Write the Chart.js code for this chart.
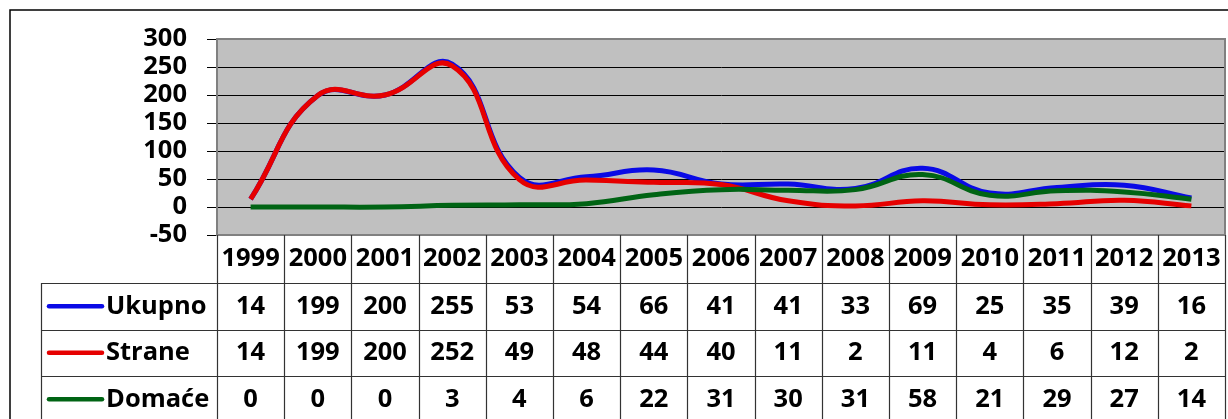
<!DOCTYPE html>
<html lang="sr">
<head>
  <meta charset="UTF-8" />
  <title>Ukupno / Strane / Domaće</title>
  <script src="https://cdn.jsdelivr.net/npm/chart.js"></script>
  <style>
    body { margin: 0; background: #fff; }
    canvas { display: block; }
  </style>
</head>
<body>
  <canvas id="chart" width="1228" height="419"></canvas>
  <script>
    const years = ["1999", "2000", "2001", "2002", "2003", "2004", "2005", "2006",
                   "2007", "2008", "2009", "2010", "2011", "2012", "2013"];
    const ukupno = [14, 199, 200, 255, 53, 54, 66, 41, 41, 33, 69, 25, 35, 39, 16];
    const strane = [14, 199, 200, 252, 49, 48, 44, 40, 11, 2, 11, 4, 6, 12, 2];
    const domace = [0, 0, 0, 3, 4, 6, 22, 31, 30, 31, 58, 21, 29, 27, 14];
    const seriesNames = ["Ukupno", "Strane", "Domaće"];
    const seriesColors = ["#0a0ae6", "#e60000", "#006414"];

    const FONT = "bold 25.5px 'Open Sans'";

    // plot background, outer frame, and the data table under the plot
    const tablePlugin = {
      id: "tablePlugin",
      beforeDraw(chart) {
        const { ctx, chartArea: a } = chart;
        ctx.save();
        ctx.fillStyle = "#fff";
        ctx.fillRect(0, 0, chart.width, chart.height);
        ctx.strokeStyle = "#000";
        ctx.lineWidth = 1.5;
        ctx.beginPath();
        ctx.moveTo(10, chart.height);
        ctx.lineTo(10, 10);
        ctx.lineTo(chart.width, 10);
        ctx.stroke();
        ctx.fillStyle = "#c0c0c0";
        ctx.fillRect(a.left, a.top, a.right - a.left, a.bottom - a.top);
        ctx.restore();
      },
      afterDatasetsDraw(chart) {
        const { ctx, chartArea: a, scales } = chart;
        const x = scales.x;
        const half = (a.right - a.left) / years.length / 2;
        const headH = 48, rowH = 46.5;
        const legendLeft = 41;
        const rowsTop = a.bottom + headH;
        const bottom = chart.height + 5;
        const allData = [ukupno, strane, domace];

        ctx.save();
        // plot border
        ctx.strokeStyle = "#808080";
        ctx.lineWidth = 2;
        ctx.strokeRect(a.left, a.top, a.right - a.left, a.bottom - a.top);

        // table grid
        ctx.strokeStyle = "#333";
        ctx.lineWidth = 1.2;
        ctx.beginPath();
        for (let i = 0; i <= years.length; i++) {
          const px = Math.round(x.getPixelForValue(Math.min(i, years.length - 1)) + (i === years.length ? half : -half)) + 0.5;
          ctx.moveTo(px, a.bottom);
          ctx.lineTo(px, bottom);
        }
        ctx.moveTo(legendLeft + 0.5, rowsTop);
        ctx.lineTo(legendLeft + 0.5, bottom);
        for (let r = 0; r < 3; r++) {
          const py = Math.round(rowsTop + r * rowH) + 0.5;
          ctx.moveTo(legendLeft, py);
          ctx.lineTo(a.right, py);
        }
        ctx.stroke();

        // header years
        ctx.font = FONT;
        ctx.fillStyle = "#000";
        ctx.textAlign = "center";
        ctx.textBaseline = "middle";
        years.forEach((y, i) => {
          ctx.fillText(y, x.getPixelForValue(i), a.bottom + headH / 2);
        });

        // rows with legend keys and values
        allData.forEach((vals, r) => {
          const cy = rowsTop + r * rowH + rowH / 2;
          ctx.strokeStyle = seriesColors[r];
          ctx.lineWidth = 4.5;
          ctx.lineCap = "round";
          ctx.beginPath();
          ctx.moveTo(49, cy);
          ctx.lineTo(102, cy);
          ctx.stroke();
          ctx.textAlign = "left";
          ctx.fillText(seriesNames[r], 106, cy);
          ctx.textAlign = "center";
          vals.forEach((v, i) => {
            ctx.fillText(String(v), x.getPixelForValue(i), cy);
          });
        });
        ctx.restore();
      }
    };

    const ctx = document.getElementById("chart").getContext("2d");
    new Chart(ctx, {
      type: "line",
      data: {
        labels: years,
        datasets: [ukupno, strane, domace].map((d, i) => ({
          label: seriesNames[i],
          data: d,
          borderColor: seriesColors[i],
          borderWidth: 5,
          pointRadius: 0,
          tension: 0.45,
          fill: false,
          order: 3 - i
        }))
      },
      options: {
        responsive: false,
        animation: false,
        events: [],
        layout: { padding: { left: 10, top: 39, right: 3, bottom: 184 } },
        plugins: { legend: { display: false }, tooltip: { enabled: false } },
        scales: {
          x: { display: false, offset: true },
          y: {
            min: -50,
            max: 300,
            afterFit(scale) { scale.width = 207; },
            ticks: {
              stepSize: 50,
              autoSkip: false,
              padding: 20,
              color: "#000",
              font: { family: "'Open Sans'", size: 25.5, weight: "bold" }
            },
            grid: {
              color: "#000",
              lineWidth: 1,
              tickLength: 10,
              tickColor: "#000"
            },
            border: { color: "#808080", width: 2 }
          }
        }
      },
      plugins: [tablePlugin]
    });
  </script>
</body>
</html>
